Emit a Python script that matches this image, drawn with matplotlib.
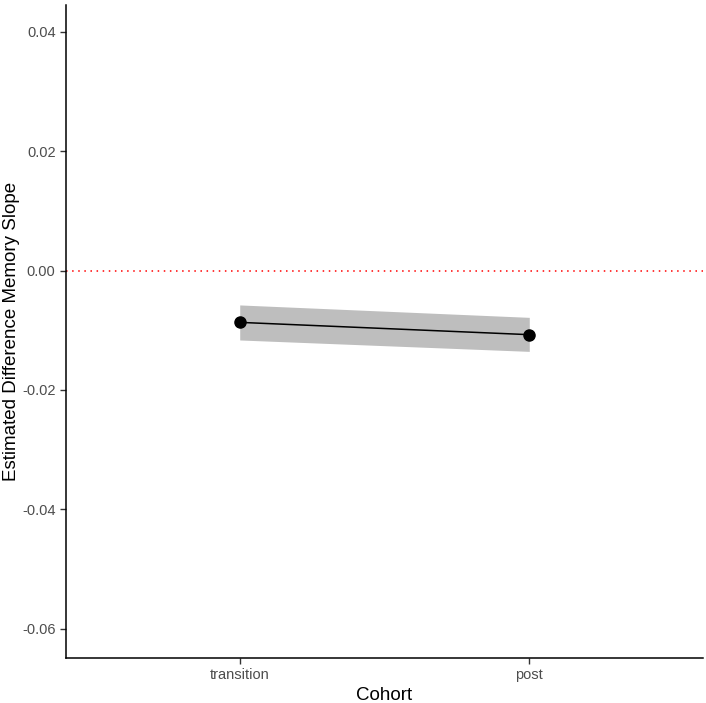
import matplotlib.pyplot as plt

plt.rcParams['font.family'] = ['Liberation Sans', 'DejaVu Sans']

cohorts = ['transition', 'post']
estimate = [-0.00867, -0.01073]
lower = [-0.01162, -0.01353]
upper = [-0.00575, -0.00783]
yticks = [0.04, 0.02, 0.00, -0.02, -0.04, -0.06]

fig = plt.figure(figsize=(7.06, 7.03), dpi=100)
ax = fig.add_axes([66 / 706, 45 / 703, 637 / 706, 653 / 703])

x = list(range(1, len(cohorts) + 1))
ax.fill_between(x, lower, upper, color='#bebebe', linewidth=0, zorder=1)
ax.plot(x, estimate, color='black', linewidth=1.1, zorder=2)
ax.plot(x, estimate, 'o', color='black', markersize=8, zorder=3)
ax.axhline(0, color='red', linestyle=(0, (1, 3)), linewidth=1.1, zorder=1)

ax.set_xlim(0.4, 2.6)
ax.set_ylim(-0.0649, 0.0445)
ax.set_xticks(x)
ax.set_xticklabels(cohorts)
ax.set_yticks(yticks)
ax.set_yticklabels(['%.2f' % v for v in yticks])

for s in ['top', 'right']:
    ax.spines[s].set_visible(False)
for s in ['left', 'bottom']:
    ax.spines[s].set_linewidth(1.1)
ax.tick_params(color='#333333', labelsize=10.5, length=4, width=1.0, labelcolor='#4d4d4d')

ax.set_xlabel('Cohort', fontsize=13.5, labelpad=3)
ax.set_ylabel('Estimated Difference Memory Slope', fontsize=13.5, va='center')
ax.yaxis.set_label_coords(-54 / 637, 0.5)

fig.savefig('out.png', dpi=100)
